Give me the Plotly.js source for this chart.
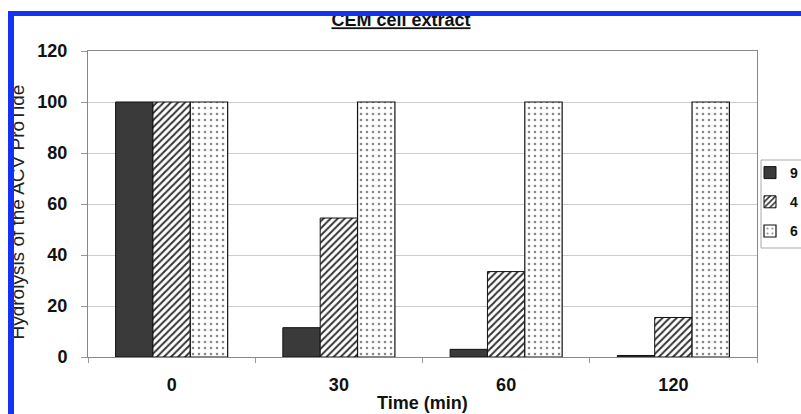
<!DOCTYPE html>
<html>
<head>
<meta charset="utf-8">
<script src="https://cdn.plot.ly/plotly-3.0.1.min.js"></script>
<style>
  html, body { margin: 0; padding: 0; background: #fff; }
  #wrap { position: relative; width: 801px; height: 414px; overflow: hidden; }
  #chart { position: absolute; left: 0; top: 0; width: 801px; height: 414px; }
  .ov { position: absolute; pointer-events: none; }
</style>
</head>
<body>
<div id="wrap">
  <div id="chart"></div>
  <div class="ov" style="left:0;top:0;width:8px;height:414px;background:#fff;"></div>
  <div class="ov" style="left:0;top:0;width:801px;height:11px;background:#fff;"></div>
  <div class="ov" style="left:8px;top:11px;width:6px;height:403px;background:#1432f5;"></div>
  <div class="ov" style="left:8px;top:11px;width:793px;height:5px;background:#1432f5;"></div>
</div>
<script>
const categories = ["0", "30", "60", "120"];
const seriesNames = ["9", "4", "6"];
const series9 = [100, 11.5, 3, 0.6];
const series4 = [100, 54.5, 33.5, 15.5];
const series6 = [100, 100, 100, 100];
const yTicks = [0, 20, 40, 60, 80, 100, 120];

const font = "Arial, 'Liberation Sans', sans-serif";

const traces = [
  {
    type: "bar", name: seriesNames[0], x: categories, y: series9,
    legendgroup: "a",
    marker: { color: "#3a3a3a", line: { color: "#111", width: 1 } }
  },
  {
    type: "bar", name: seriesNames[1], x: categories, y: series4,
    legendgroup: "b",
    marker: { color: "#ffffff", line: { color: "#111", width: 1 },
      pattern: { shape: "/", fgcolor: "#333", bgcolor: "#fff", size: 5, solidity: 0.4 } }
  },
  {
    type: "bar", name: seriesNames[2], x: categories, y: series6,
    legendgroup: "c",
    marker: { color: "#ffffff", line: { color: "#111", width: 1.2 },
      pattern: { shape: ".", fgcolor: "#888", bgcolor: "#fff", size: 6, solidity: 0.15 } }
  }
];

const layout = {
  width: 801, height: 414,
  margin: { l: 88, r: 44, t: 51, b: 57, autoexpand: false },
  paper_bgcolor: "#fff", plot_bgcolor: "#fff",
  font: { family: font, color: "#222" },
  barmode: "group", bargap: 0.33, bargroupgap: 0,
  title: { text: "<b><u>CEM cell extract</u></b>", font: { size: 18, family: font, color: "#111" },
    x: 401 / 801, xanchor: "center", y: 1 - 20/414, yanchor: "middle", xref: "container", yref: "container" },
  xaxis: {
    type: "category", tickson: "boundaries", ticks: "outside", ticklen: 5, tickcolor: "#999",
    showline: true, linecolor: "#888", linewidth: 1, mirror: true,
    tickfont: { size: 18, family: font, color: "#111", weight: "bold" },
    showgrid: false, fixedrange: true, ticklabelstandoff: 11
  },
  yaxis: {
    range: [0, 120], tickvals: yTicks, ticktext: yTicks.map(String),
    ticks: "outside", ticklen: 6, tickcolor: "#999",
    showline: true, linecolor: "#888", linewidth: 1, mirror: true,
    gridcolor: "#cccccc", gridwidth: 1, zeroline: false,
    tickfont: { size: 18, family: font, color: "#111", weight: "bold" }, ticklabelstandoff: 10
  },
  showlegend: true,
  legend: {
    x: (750 - 88) / 669, xanchor: "left", y: (357 - 157) / 306, yanchor: "top",
    bgcolor: "rgba(255,255,255,0)", borderwidth: 0,
    font: { size: 14, family: font, color: "#111", weight: "bold" },
    tracegroupgap: 8, traceorder: "grouped"
  },
  shapes: [
    { type: "rect", xref: "paper", yref: "paper",
      x0: (761 - 88) / 669, x1: (810 - 88) / 669, y0: (357 - 248) / 306, y1: (357 - 160) / 306,
      line: { color: "#aaa", width: 1 }, fillcolor: "rgba(0,0,0,0)", layer: "below" }
  ],
  annotations: [
    { text: "<b>Time (min)</b>", xref: "paper", yref: "paper",
      x: 0.5, y: (357 - 403) / 306, xanchor: "center", yanchor: "middle",
      showarrow: false, font: { size: 18, family: font, color: "#111" } },
    { text: "Hydrolysis of the ACV ProTide", xref: "paper", yref: "paper", textangle: -90,
      x: (17 - 88) / 669, y: (357 - 212.5) / 306, xanchor: "center", yanchor: "middle",
      showarrow: false, font: { size: 19, family: font, color: "#222" } }
  ]
};

Plotly.newPlot("chart", traces, layout, { displayModeBar: false, staticPlot: true });
</script>
</body>
</html>
